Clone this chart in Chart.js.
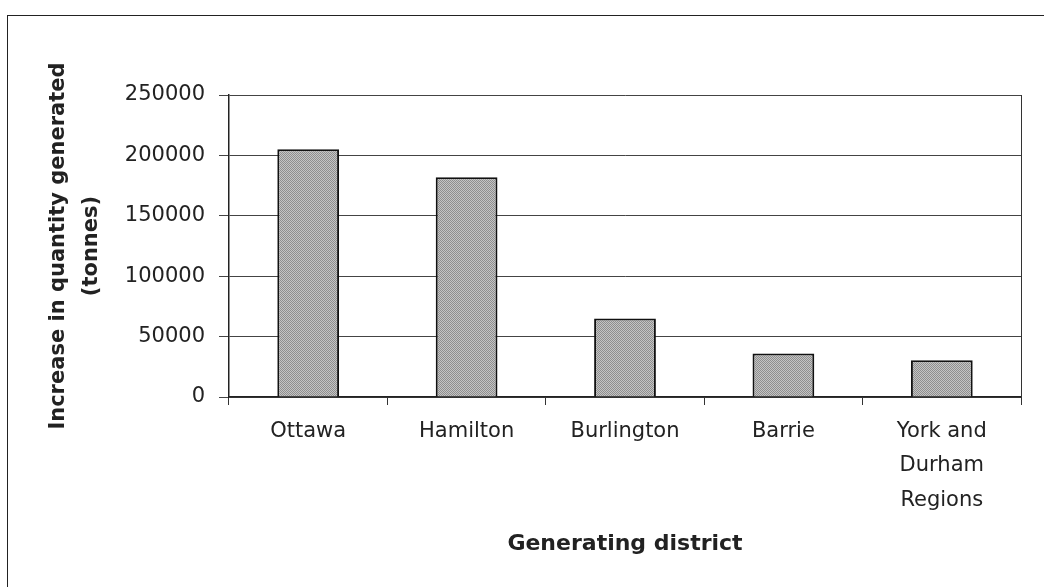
<!DOCTYPE html>
<html>
<head>
<meta charset="utf-8">
<script src="https://cdn.jsdelivr.net/npm/chart.js@4.4.1/dist/chart.umd.min.js"></script>
<style>
  html, body { margin: 0; padding: 0; background: #fff; }
  #wrap { position: relative; width: 1044px; height: 587px; }
  #frame { position: absolute; left: 7px; top: 15px; right: 0; bottom: 0;
           border-left: 1.5px solid #222; border-top: 1.5px solid #222; pointer-events: none; }
  canvas { position: absolute; left: 0; top: 0; }
</style>
</head>
<body>
<div id="wrap">
  <canvas id="c" width="1044" height="587"></canvas>
  <div id="frame"></div>
</div>
<script>
const categories = ["Ottawa", "Hamilton", "Burlington", "Barrie", ["York and", "Durham", "Regions"]];
const increaseTonnes = [205000, 182000, 65000, 36000, 30500];
const yTicks = [0, 50000, 100000, 150000, 200000, 250000];
const yTitle = ["Increase in quantity generated", "(tonnes)"];
const xTitle = "Generating district";

const FONT = "'DejaVu Sans', 'Liberation Sans', Arial, sans-serif";

function makePattern() {
  const p = document.createElement('canvas');
  p.width = 2; p.height = 2;
  const g = p.getContext('2d');
  g.fillStyle = '#c4c4c4'; g.fillRect(0, 0, 2, 2);
  g.fillStyle = '#8e8e8e'; g.fillRect(0, 0, 1, 1); g.fillRect(1, 1, 1, 1);
  return g.createPattern(p, 'repeat');
}

const frameArea = {
  id: 'frameArea',
  afterDraw(chart) {
    const a = chart.chartArea, ctx = chart.ctx;
    ctx.save();
    ctx.strokeStyle = '#333';
    ctx.lineWidth = 1;
    ctx.beginPath();
    ctx.moveTo(a.right + 0.5, a.top);
    ctx.lineTo(a.right + 0.5, a.bottom + 4);
    ctx.stroke();
    ctx.restore();
  }
};

new Chart(document.getElementById('c'), {
  type: 'bar',
  data: {
    labels: categories,
    datasets: [{
      data: increaseTonnes,
      backgroundColor: makePattern(),
      borderColor: '#111',
      borderWidth: 2,
      borderSkipped: 'bottom',
      categoryPercentage: 1.0,
      barPercentage: 0.39
    }]
  },
  options: {
    responsive: false,
    animation: false,
    devicePixelRatio: 1,
    layout: { padding: { top: 95, left: 0, right: 23, bottom: 0 } },
    plugins: { legend: { display: false }, tooltip: { enabled: false } },
    scales: {
      x: {
        afterFit(s) { s.height = 190; },
        grid: { offset: true, drawOnChartArea: false, drawTicks: true, tickLength: 8, color: '#333', lineWidth: 1 },
        border: { display: true, color: '#222', width: 1.5 },
        ticks: { color: '#222', padding: 10, font: { family: FONT, size: 21, lineHeight: 1.62 }, maxRotation: 0, autoSkip: false },
        title: { display: true, text: xTitle, color: '#222', padding: { top: 0, bottom: 30 },
                 font: { family: FONT, size: 22, weight: 'bold', lineHeight: 1.2 } }
      },
      y: {
        min: 0, max: 250000,
        afterFit(s) { s.width = 229; },
        afterBuildTicks(s) { s.ticks = yTicks.map(v => ({ value: v })); },
        grid: { color: '#444', lineWidth: 1, tickLength: 10 },
        border: { display: true, color: '#222', width: 1.5 },
        ticks: { color: '#222', padding: 14, font: { family: FONT, size: 21 }, callback: (v) => String(v) },
        title: { display: true, text: yTitle, color: '#222', padding: { top: 42, bottom: 0 },
                 font: { family: FONT, size: 21, weight: 'bold', lineHeight: 1.57 } }
      }
    }
  },
  plugins: [frameArea]
});
</script>
</body>
</html>
